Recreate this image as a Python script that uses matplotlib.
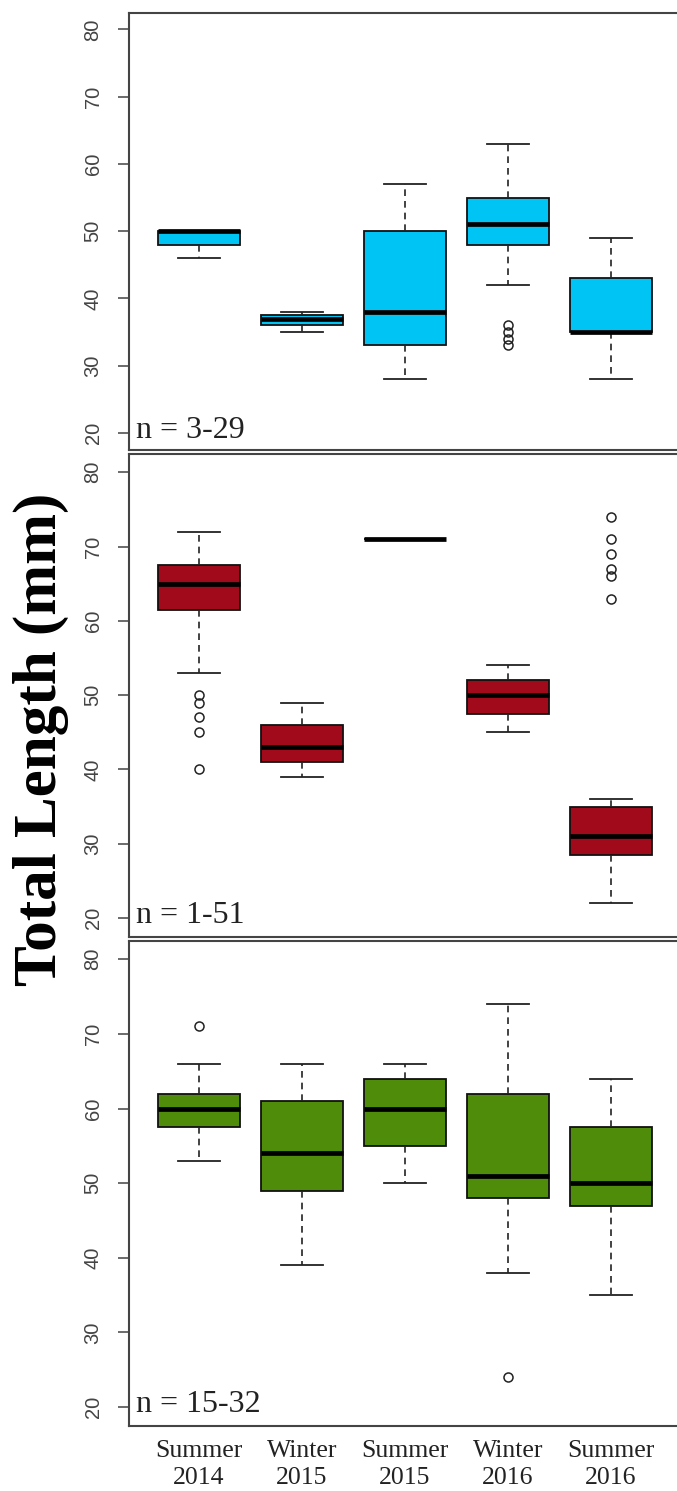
import matplotlib
matplotlib.use("Agg")
import matplotlib.pyplot as plt

# ---------------- data ----------------
categories = ["Summer\n2014", "Winter\n2015", "Summer\n2015", "Winter\n2016", "Summer\n2016"]

# Panel 1 (blue), n = 3-29
p1_q1 = [48, 36, 33, 48, 35]
p1_med = [50, 37, 38, 51, 35]
p1_q3 = [50, 37.5, 50, 55, 43]
p1_lo = [46, 35, 28, 42, 28]
p1_hi = [50, 38, 57, 63, 49]
p1_out = [[], [], [], [36, 35, 34, 33], []]

# Panel 2 (red), n = 1-51
p2_q1 = [61.5, 41, 71, 47.5, 28.5]
p2_med = [65, 43, 71, 50, 31]
p2_q3 = [67.5, 46, 71, 52, 35]
p2_lo = [53, 39, 71, 45, 22]
p2_hi = [72, 49, 71, 54, 36]
p2_out = [[50, 49, 47, 45, 40], [], [], [], [74, 71, 69, 67, 66, 63]]

# Panel 3 (green), n = 15-32
p3_q1 = [57.5, 49, 55, 48, 47]
p3_med = [60, 54, 60, 51, 50]
p3_q3 = [62, 61, 64, 62, 57.5]
p3_lo = [53, 39, 50, 38, 35]
p3_hi = [66, 66, 66, 74, 64]
p3_out = [[71], [], [], [24], []]

n_labels = ["n = 3-29", "n = 1-51", "n = 15-32"]
yticks = [20, 30, 40, 50, 60, 70, 80]
ylabel = "Total Length (mm)"

panels = [
    (p1_q1, p1_med, p1_q3, p1_lo, p1_hi, p1_out, "#00C4F4"),
    (p2_q1, p2_med, p2_q3, p2_lo, p2_hi, p2_out, "#A00A1A"),
    (p3_q1, p3_med, p3_q3, p3_lo, p3_hi, p3_out, "#4E8C0A"),
]

# ---------------- layout ----------------
W, H = 677, 1491
fig = plt.figure(figsize=(W / 100, H / 100), dpi=100)

left_px = 129
right_px = 681
# (top_px, bottom_px)
panel_px = [(13, 450), (454, 937), (941, 1426)]

positions = list(range(1, len(categories) + 1))

for i, ((q1, med, q3, lo, hi, out, color), (top, bot)) in enumerate(zip(panels, panel_px)):
    ax = fig.add_axes([left_px / W, 1 - bot / H, (right_px - left_px) / W, (bot - top) / H])
    stats = []
    for j in range(len(categories)):
        stats.append(dict(q1=q1[j], med=med[j], q3=q3[j], whislo=lo[j], whishi=hi[j],
                          fliers=out[j], label=categories[j]))
    ax.bxp(stats, positions=positions, widths=0.8, patch_artist=True,
           showfliers=True, capwidths=0.4,
           boxprops=dict(facecolor=color, edgecolor="#111111", linewidth=1.3),
           medianprops=dict(color="black", linewidth=3.4, solid_capstyle="butt"),
           whiskerprops=dict(color="#222222", linewidth=1.2, linestyle=(0, (4, 3))),
           capprops=dict(color="#222222", linewidth=1.3),
           flierprops=dict(marker="o", markerfacecolor="none", markeredgecolor="#222222",
                           markersize=6.5, markeredgewidth=1.1))
    ax.set_xlim(0.32, 5.68)
    ax.set_ylim(17.45, 82.45)
    ax.set_yticks(yticks)
    ax.set_yticklabels([str(t) for t in yticks], rotation=90, va="center",
                       fontfamily="Liberation Sans", fontsize=14.5, color="#444444")
    ax.tick_params(axis="y", length=8, width=1.1, color="#444444", pad=11)
    for s in ax.spines.values():
        s.set_color("#444444")
        s.set_linewidth(1.5)
    ax.text(0.013, 0.028, n_labels[i], transform=ax.transAxes, ha="left", va="baseline",
            fontfamily="Liberation Serif", fontsize=23, color="#222222")
    if i < 2:
        ax.set_xticks([])
    else:
        ax.set_xticks(positions)
        ax.set_xticklabels(categories, fontfamily="Liberation Serif", fontsize=18.5,
                           color="#222222", linespacing=1.3)
        ax.tick_params(axis="x", length=0, pad=10)

fig.text(41 / W, 1 - 739 / H, ylabel, rotation=90, ha="center", va="center",
         fontfamily="Liberation Serif", fontweight="bold", fontsize=44, color="black")

fig.savefig("out.png", dpi=100)
